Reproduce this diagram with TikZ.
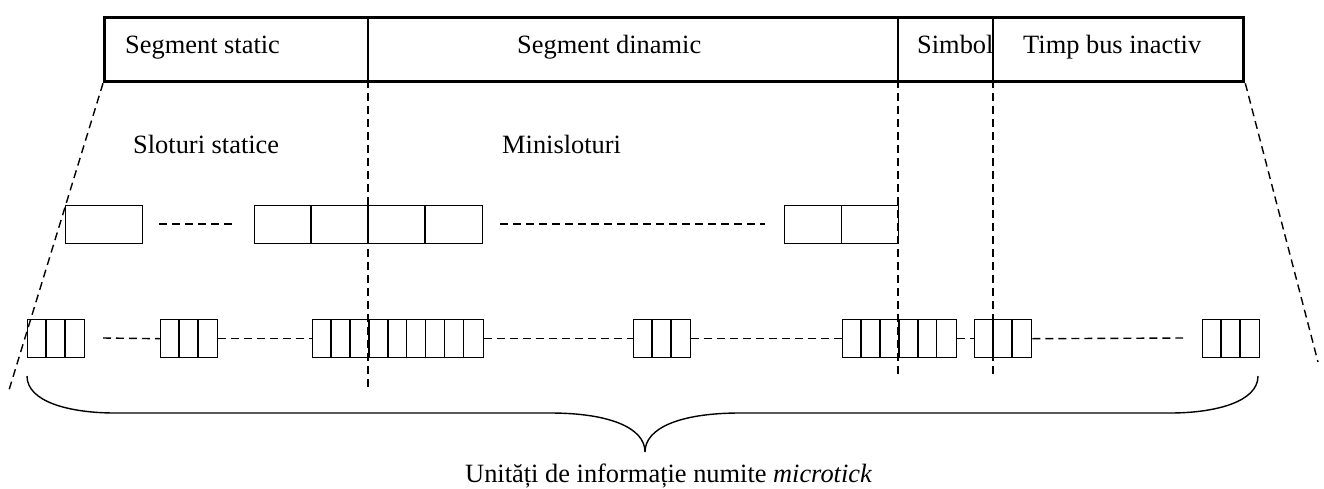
\documentclass[tikz,border=0pt]{standalone}
\usepackage{fontspec}
\setmainfont{Liberation Serif}
\usetikzlibrary{calc}
\begin{document}
\begin{tikzpicture}[x=1pt,y=-1pt,
  thinline/.style={line width=1.4pt},
  thickline/.style={line width=3.3pt},
  dline/.style={line width=1.4pt, dash pattern=on 8pt off 5pt},
  lbl/.style={anchor=base west, inner sep=0pt, font=\fontsize{26.4}{30}\selectfont},
  cellgrp/.style={draw, thinline, anchor=north west, inner sep=0pt, minimum height=38pt}
]
\useasboundingbox (0,0) rectangle (1324,488);

% top bar
\node[draw, thickline, anchor=north west, inner sep=0pt, minimum width=1139pt, minimum height=64pt] (bar) at (103,16) {};
\coordinate (t1) at (368,16); \coordinate (b1) at (368,80);
\coordinate (t2) at (898,16); \coordinate (b2) at (898,80);
\coordinate (t3) at (993,16); \coordinate (b3) at (993,80);
\draw[thinline] (t1) -- (b1) (t2) -- (b2) (t3) -- (b3);

\node[lbl] (segst) at (125,53) {Segment static};
\node[lbl] (segdy) at (517,53) {Segment dinamic};
\node[lbl] (simb) at (917,53) {Simbol};
\node[lbl] (timp) at (1023,53) {Timp bus inactiv};

\node[lbl] (slst) at (133,153) {Sloturi statice};
\node[lbl] (mini) at (502,153) {Minisloturi};

% vertical dashed lines
\coordinate (v1) at (368,390);
\coordinate (v2) at (898,376);
\coordinate (v3) at (993,376);
\draw[dline] (b1) -- (v1) (b2) -- (v2) (b3) -- (v3);

% slanted dashed lines
\coordinate (sl) at (9,390);
\coordinate (sr) at (1318,362);
\draw[dline] (bar.south west) -- (sl);
\draw[dline] (bar.south east) -- (sr);

% middle row
\node[cellgrp, minimum width=77pt] (m1) at (65,205) {};
\node[cellgrp, minimum width=228pt] (m2) at (254,205) {};
\foreach \i in {1,2,3} \draw[thinline] ($(m2.north west)+(57*\i,0)$) -- ($(m2.south west)+(57*\i,0)$);
\node[cellgrp, minimum width=114pt] (m3) at (784,205) {};
\draw[thinline] (m3.north) -- (m3.south);
\coordinate (md1a) at (159,224); \coordinate (md1b) at (236,224);
\coordinate (md2a) at (500,224); \coordinate (md2b) at (765,224);
\draw[dline] (md1a) -- (md1b) (md2a) -- (md2b);

% bottom row (microticks)
\def\cw{18.95}
\foreach \n/\x/\k in {g1/27/3, g2/160/3, g3/312/9, g4/633/3, g5/842/6, g6/974/3, g7/1202/3}{
  \node[cellgrp, minimum width={\k*\cw*1pt}] (\n) at (\x,319) {};
  \pgfmathtruncatemacro{\km}{\k-1}
  \foreach \i in {1,...,\km} \draw[thinline] ($(\n.north west)+(\cw*\i,0)$) -- ($(\n.south west)+(\cw*\i,0)$);
}
\coordinate (bd0) at (103,338);
\coordinate (bd7) at (1183,338);
\draw[dline] (bd0) -- (g2.west);
\draw[dline] (g2.east) -- (g3.west);
\draw[dline] (g3.east) -- (g4.west);
\draw[dline] (g4.east) -- (g5.west);
\draw[dline] (g5.east) -- (g6.west);
\draw[dline] (g6.east) -- (bd7);

% brace
\coordinate (brl) at (27,376);
\coordinate (brm) at (645,452);
\coordinate (brr) at (1258,376);
\draw[thinline] (brl) .. controls (27,402) and (70,413) .. (115,413) -- (550,413)
  .. controls (610,413) and (645,428) .. (brm)
  .. controls (645,428) and (680,413) .. (740,413) -- (1170,413)
  .. controls (1215,413) and (1258,402) .. (brr);

\node[lbl] (unit) at (465,482) {Unități de informație numite \textit{microtick}};
\end{tikzpicture}
\end{document}
